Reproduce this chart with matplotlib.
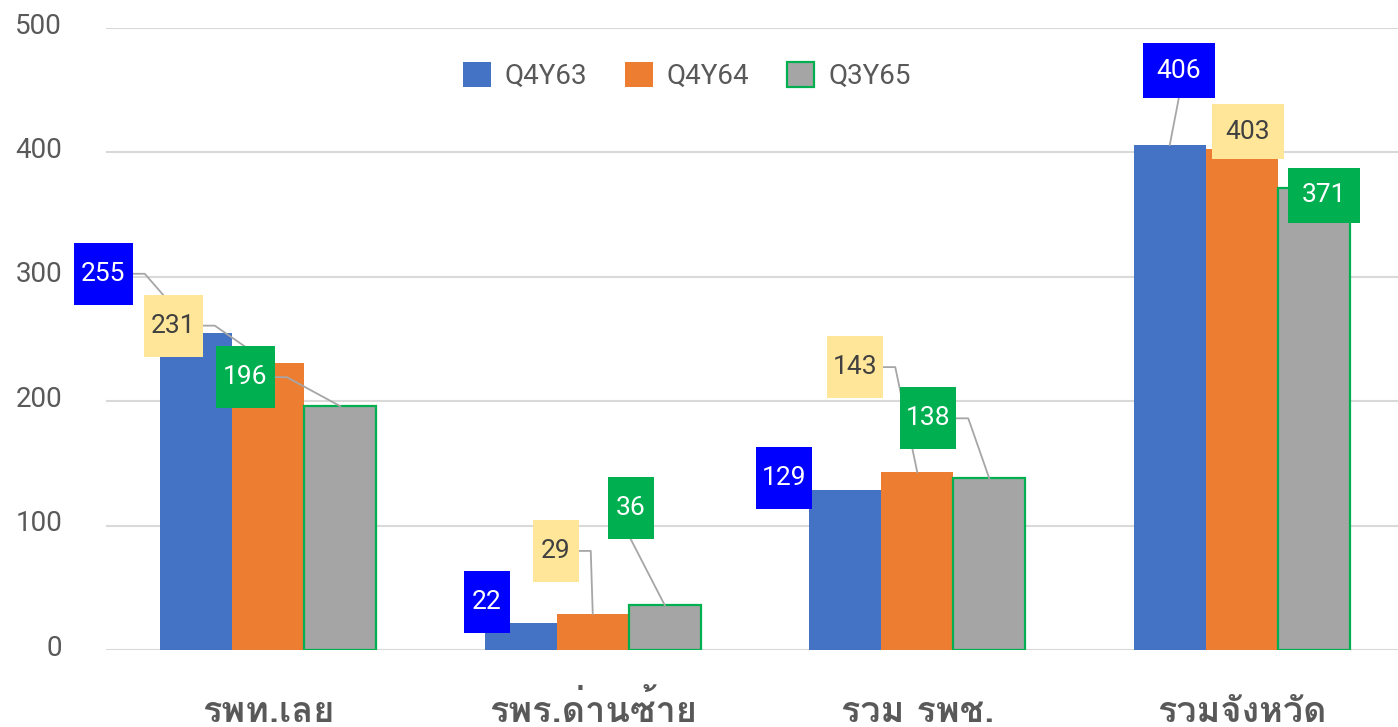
import matplotlib

matplotlib.use("Agg")
import matplotlib.pyplot as plt
from matplotlib import font_manager
from matplotlib.ft2font import FT2Font
from matplotlib.patches import Rectangle
from matplotlib.transforms import ScaledTranslation

CATEGORIES = ["รพท.เลย", "รพร.ด่านซ้าย", "รวม รพช.", "รวมจังหวัด"]
SERIES_NAMES = ["Q4Y63", "Q4Y64", "Q3Y65"]
Q4Y63 = [255, 22, 129, 406]
Q4Y64 = [231, 29, 143, 403]
Q3Y65 = [196, 36, 138, 371]
Y_TICKS = [0, 100, 200, 300, 400, 500]

BAR_COLORS = ["#4472C4", "#ED7D31", "#A5A5A5"]
BAR_EDGES = ["none", "none", "#00B050"]
BOX_COLORS = ["#0000FF", "#FFE699", "#00B050"]
BOX_TEXT = ["white", "#404040", "white"]
GRID_COLOR = "#D9D9D9"
TEXT_COLOR = "#595959"
LEADER_COLOR = "#A6A6A6"
BASE_FONT = "Roboto"

# label box centre relative to bar top, in pixels (dx right, dy up)
LABEL_OFFSETS = [
    [(-93, 59), (-34, 21), (-61, 12), (9, 74)],
    [(-95, 37), (-37, 63), (-62, 105), (6, 17)],
    [(-95, 29), (-34, 97), (-61, 60), (10, -7)],
]
LEADER_STYLE = [
    ["side", None, None, "bottom"],
    ["side", "side", "side", None],
    ["side", "bottom", "side", None],
]
BOX_SIZES = [(59, 62), (46, 62), (56, 62), (72, 55)]


# Finds an installed family that has Thai glyphs.
def findThaiFont():
    for entry in font_manager.fontManager.ttflist:
        try:
            if 0x0E23 in FT2Font(entry.fname).get_charmap():
                return entry.name
        except Exception:
            continue
    return "DejaVu Sans"


thaiFont = findThaiFont()
plt.rcParams["font.family"] = [BASE_FONT, "DejaVu Sans"]

fig = plt.figure(figsize=(13.98, 7.27), dpi=100)
ax = fig.add_axes([106 / 1398, 77 / 727, 1298 / 1398, 622 / 727])
ax.set_xlim(-0.5, len(CATEGORIES) - 0.5)
ax.set_ylim(0, 500)

barWidth = 72 / 324.5
seriesValues = [Q4Y63, Q4Y64, Q3Y65]
for sIndex, values in enumerate(seriesValues):
    xs = [i + (sIndex - 1) * barWidth for i in range(len(CATEGORIES))]
    ax.bar(
        xs,
        values,
        width=barWidth,
        color=BAR_COLORS[sIndex],
        edgecolor=BAR_EDGES[sIndex],
        linewidth=1.6,
        label=SERIES_NAMES[sIndex],
        zorder=2,
    )

for spine in ax.spines.values():
    spine.set_visible(False)
ax.set_yticks(Y_TICKS)
ax.yaxis.grid(True, color=GRID_COLOR, linewidth=1.5)
ax.set_axisbelow(True)
ax.tick_params(axis="y", length=0, pad=31.5, labelsize=20, labelcolor=TEXT_COLOR)
ax.tick_params(axis="x", length=0, pad=52, labelcolor=TEXT_COLOR)
ax.set_xticks(range(len(CATEGORIES)))
ax.set_xticklabels(
    CATEGORIES,
    family=[thaiFont, "DejaVu Sans"],
    fontsize=26,
    fontweight="bold",
    va="baseline",
)
raise5 = ScaledTranslation(0, 0.05, fig.dpi_scale_trans)
for label in ax.get_yticklabels():
    label.set_transform(label.get_transform() + raise5)

# data labels with leader lines, laid out in pixels
toData = ax.transData.inverted()
for sIndex, values in enumerate(seriesValues):
    for cIndex, value in enumerate(values):
        barX = cIndex + (sIndex - 1) * barWidth
        topX, topY = ax.transData.transform((barX, value))
        dx, dy = LABEL_OFFSETS[sIndex][cIndex]
        boxW, boxH = BOX_SIZES[cIndex]
        cx, cy = topX + dx, topY + dy
        x0, y0 = toData.transform((cx - boxW / 2, cy - boxH / 2))
        x1, y1 = toData.transform((cx + boxW / 2, cy + boxH / 2))
        ax.add_patch(
            Rectangle(
                (x0, y0),
                x1 - x0,
                y1 - y0,
                facecolor=BOX_COLORS[sIndex],
                edgecolor="none",
                zorder=5,
                clip_on=False,
            )
        )
        ax.text(
            (x0 + x1) / 2,
            (y0 + y1) / 2,
            str(value),
            ha="center",
            va="center",
            fontsize=19,
            color=BOX_TEXT[sIndex],
            zorder=6,
            clip_on=False,
        )
        style = LEADER_STYLE[sIndex][cIndex]
        if style == "side":
            points = [(cx + boxW / 2, cy), (cx + boxW / 2 + 12, cy), (topX, topY)]
        elif style == "bottom":
            points = [(cx, cy - boxH / 2), (topX, topY)]
        else:
            continue
        dataPoints = toData.transform(points)
        ax.plot(
            dataPoints[:, 0],
            dataPoints[:, 1],
            color=LEADER_COLOR,
            linewidth=1.3,
            zorder=4,
            clip_on=False,
        )

legend = fig.legend(
    loc="center",
    bbox_to_anchor=(687 / 1398, 1 - 76 / 727),
    ncol=3,
    frameon=False,
    fontsize=20,
    handlelength=1.0,
    handleheight=1.0,
    handletextpad=0.5,
    columnspacing=1.35,
)
for text in legend.get_texts():
    text.set_color(TEXT_COLOR)

plt.savefig("out.png", dpi=100, facecolor="white")
plt.close(fig)
